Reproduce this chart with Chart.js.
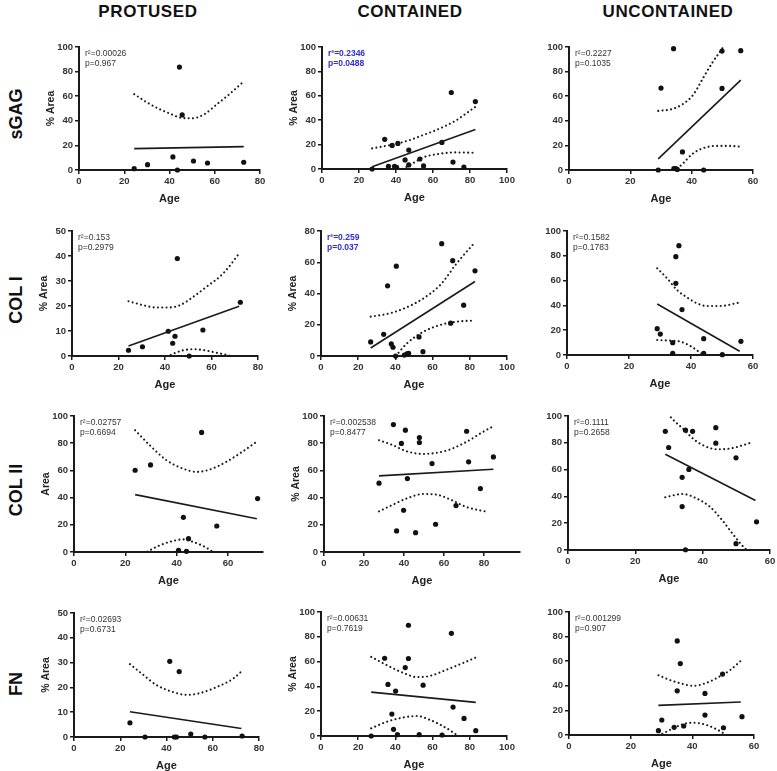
<!DOCTYPE html>
<html><head><meta charset="utf-8">
<script src="https://cdn.jsdelivr.net/npm/chart.js@4/dist/chart.umd.min.js"></script>
<style>
html,body{margin:0;padding:0;background:#fff;}
#wrap{position:relative;width:777px;height:771px;overflow:hidden;font-family:'Liberation Sans',Arial,sans-serif;background:#fff;}
.hdr{position:absolute;font-weight:bold;font-size:17px;color:#111;transform:translate(-50%,-50%);white-space:nowrap;letter-spacing:0.6px}
.row{position:absolute;font-weight:bold;font-size:18px;color:#111;transform:translate(-50%,-50%) rotate(-90deg);white-space:nowrap}
canvas{position:absolute}
</style></head><body><div id="wrap">
<div class="hdr" style="left:148px;top:12px">PROTUSED</div>
<div class="hdr" style="left:410px;top:12px">CONTAINED</div>
<div class="hdr" style="left:668px;top:12px">UNCONTAINED</div>
<div class="row" style="left:16px;top:114px">sGAG</div>
<div class="row" style="left:16px;top:300px">COL I</div>
<div class="row" style="left:16px;top:490px">COL II</div>
<div class="row" style="left:16px;top:684px">FN</div>
</div>
<script>
// ---------- DATA ----------
const columns = ['PROTUSED', 'CONTAINED', 'UNCONTAINED'];
const rows = ['sGAG', 'COL I', 'COL II', 'FN'];

// sGAG – PROTUSED
const sgagProtAge  = [24.4, 30.3, 41.5, 43.5, 44.4, 45.6, 50.6, 56.8, 72.8];
const sgagProtArea = [1.1, 4.3, 10.6, 0, 83.7, 44.8, 7.3, 5.7, 6.3];
const sgagProtFitX = [24.4, 72.8], sgagProtFitY = [17.4, 19.0];
const sgagProtUpX  = [24.4, 30, 35, 40, 45, 50, 55, 62, 67, 72.8];
const sgagProtUpY  = [61.7, 55, 50, 46, 42.5, 42, 45, 55, 62.5, 72];
const sgagProtLoX  = [], sgagProtLoY = [];
const sgagProtStats = ['r²=0.00026', 'p=0.967'];

// sGAG – CONTAINED
const sgagContAge  = [27.1, 33.9, 35.9, 37.9, 39.2, 40.3, 41.0, 44.9, 46.9, 46.9, 52.9, 54.9, 64.8, 69.9, 70.8, 76.7, 82.9];
const sgagContArea = [0, 24.3, 2.2, 19.3, 2.2, 1.4, 21.0, 7.4, 15.5, 3.3, 8.2, 2.5, 21.8, 62.7, 5.7, 1.6, 55.3];
const sgagContFitX = [27.1, 82.9], sgagContFitY = [1.9, 32.4];
const sgagContUpX  = [27.1, 36.6, 45.7, 54.7, 63.7, 72.7, 82.9];
const sgagContUpY  = [16.9, 19.6, 22.9, 27.8, 33.2, 40.1, 51.0];
const sgagContLoX  = [27.1, 36.6, 44.8, 51.1, 54.7, 63.7, 72.7, 82.9];
const sgagContLoY  = [-13, -5, 1, 6.5, 9.5, 12.5, 13.6, 13.3];
const sgagContStats = ['r²=0.2346', 'p=0.0488'];

// sGAG – UNCONTAINED
const sgagUncAge  = [29.1, 30.0, 34.1, 34.2, 34.8, 35.3, 37.0, 43.9, 49.9, 49.9, 56.0];
const sgagUncArea = [0, 66.6, 98.6, 1.2, 1.2, 0.5, 14.7, 0, 96.7, 66.3, 97.0];
const sgagUncFitX = [29.1, 56.0], sgagUncFitY = [9.0, 73.1];
const sgagUncUpX  = [29.1, 33.9, 37.2, 40.5, 43.7, 47.0, 49.7, 53, 56];
const sgagUncUpY  = [48.1, 49.7, 53.8, 61.1, 74.7, 88.3, 97.8, 112, 127];
const sgagUncLoX  = [29.1, 32, 35, 37.2, 40.5, 43.7, 48.0, 52.4, 55.6];
const sgagUncLoY  = [-30, -12, 0, 5.4, 13.6, 17.7, 19.6, 19.6, 19.0];
const sgagUncStats = ['r²=0.2227', 'p=0.1035'];

// COL I – PROTUSED
const col1ProtAge  = [24.3, 30.3, 41.4, 43.3, 44.3, 45.3, 50.4, 56.3, 72.4];
const col1ProtArea = [2.3, 3.7, 9.9, 5.1, 7.9, 39.0, 0, 10.4, 21.5];
const col1ProtFitX = [24.3, 71.9], col1ProtFitY = [4.0, 19.9];
const col1ProtUpX  = [24.3, 30.7, 36.4, 41.4, 46.4, 52.1, 57.9, 65, 71.9];
const col1ProtUpY  = [21.9, 20.3, 19.4, 19.4, 20.3, 23.7, 27.7, 33.0, 41.0];
const col1ProtLoX  = [36, 40, 43.6, 47.9, 52.1, 56.4, 62.1, 67.1, 71.9];
const col1ProtLoY  = [-3, -0.8, 0.9, 2.3, 2.7, 2.4, 1.3, 0.3, -1.2];
const col1ProtStats = ['r²=0.153', 'p=0.2979'];

// COL I – CONTAINED
const col1ContAge  = [26.7, 33.7, 35.8, 37.8, 38.7, 40.5, 40.1, 44.8, 46.2, 47.1, 52.7, 54.8, 64.9, 69.7, 70.8, 76.7, 82.8];
const col1ContArea = [9.0, 13.9, 44.9, 7.7, 5.6, 57.5, 0, 0.6, 1.3, 1.7, 12.2, 2.8, 71.9, 21.0, 61.0, 32.5, 54.5];
const col1ContFitX = [26.7, 82.8], col1ContFitY = [5.1, 47.7];
const col1ContUpX  = [26.7, 37.3, 46.2, 55.2, 64.2, 73.1, 82.1];
const col1ContUpY  = [25.2, 27.4, 31.2, 37.0, 45.6, 59.5, 71.9];
const col1ContLoX  = [26.7, 33, 40.1, 46.2, 55.2, 64.2, 73.1, 82.1];
const col1ContLoY  = [-15, -7, 0, 8.1, 15.6, 19.9, 22.0, 22.7];
const col1ContStats = ['r²=0.259', 'p=0.037'];

// COL I – UNCONTAINED
const col1UncAge  = [29.1, 30.1, 34.1, 34.1, 35.1, 35.1, 36.1, 37.1, 44.1, 44.1, 50.1, 56.1];
const col1UncArea = [21.2, 16.9, 9.9, 1.3, 57.8, 79.3, 88.2, 36.6, 13.2, 1.3, 0.3, 11.0];
const col1UncFitX = [29.1, 55.7], col1UncFitY = [41.1, 3.0];
const col1UncUpX  = [29.1, 32.3, 35.5, 38.7, 41.9, 45.2, 49.5, 55.4];
const col1UncUpY  = [69.9, 61.8, 52.4, 46.5, 41.7, 39.5, 39.5, 42.2];
const col1UncLoX  = [29.1, 33.3, 36.5, 39.8, 42.5, 44.1, 47, 50];
const col1UncLoY  = [12.1, 11.6, 10.8, 7.3, 2.7, 0, -5, -12];
const col1UncStats = ['r²=0.1582', 'p=0.1783'];

// COL II – PROTUSED
const col2ProtAge  = [23.8, 29.8, 40.7, 42.6, 43.8, 44.6, 49.7, 55.6, 71.5];
const col2ProtArea = [60.1, 64.0, 1.2, 25.5, 0.5, 9.8, 87.9, 19.1, 39.3];
const col2ProtFitX = [23.8, 71.2], col2ProtFitY = [42.2, 24.5];
const col2ProtUpX  = [23.8, 29.5, 36.0, 42.5, 47.7, 52.8, 59.3, 64.5, 71.0];
const col2ProtUpY  = [89.6, 78.5, 67.5, 61.3, 58.9, 60.6, 66.3, 72.4, 81.0];
const col2ProtLoX  = [24, 28.2, 33.4, 38.6, 42.5, 46.4, 50.3, 52.8, 54.1, 58];
const col2ProtLoY  = [-4, 0, 4.9, 8.1, 9.3, 7.4, 4.4, 1.7, 0, -5];
const col2ProtStats = ['r²=0.02757', 'p=0.6694'];

// COL II – CONTAINED
const col2ContAge  = [27.5, 34.7, 36.3, 38.7, 39.8, 40.7, 41.7, 45.8, 47.7, 47.7, 54.0, 55.8, 66.0, 71.3, 72.3, 78.2, 84.7];
const col2ContArea = [50.6, 93.7, 15.5, 79.8, 30.7, 89.6, 54.0, 14.2, 84.2, 80.5, 65.0, 20.4, 34.1, 88.8, 66.3, 46.6, 69.9];
const col2ContFitX = [27.5, 84.7], col2ContFitY = [56.0, 60.9];
const col2ContUpX  = [27.5, 34.5, 41.2, 49.5, 56.2, 62.8, 71.2, 79.5, 84.7];
const col2ContUpY  = [82.2, 78.5, 74.1, 72.1, 72.9, 75.3, 81.0, 88.3, 92.5];
const col2ContLoX  = [27.5, 34.5, 41.2, 49.5, 56.2, 62.8, 71.2, 82];
const col2ContLoY  = [29.9, 34.8, 39.3, 42.6, 42.2, 38.8, 33.1, 29.4];
const col2ContStats = ['r²=0.002538', 'p=0.8477'];

// COL II – UNCONTAINED
const col2UncAge  = [28.9, 29.9, 33.9, 33.9, 34.9, 34.9, 35.9, 37.0, 43.9, 43.9, 49.9, 49.9, 56.0];
const col2UncArea = [88.6, 76.5, 54.2, 32.4, 89.4, 0.2, 60.1, 88.6, 91.3, 79.7, 68.8, 4.7, 21.0];
const col2UncFitX = [28.9, 55.7], col2UncFitY = [71.5, 36.9];
const col2UncUpX  = [28.9, 31.1, 34.1, 37.1, 40.1, 44.1, 48.1, 52.0, 55.0];
const col2UncUpY  = [104, 97.5, 90.6, 83.2, 78.2, 75.2, 75.7, 78.2, 80.7];
const col2UncLoX  = [28.9, 34.1, 38.1, 42.1, 46.1, 49.1, 51.5, 53.0, 55.7];
const col2UncLoY  = [39.4, 41.8, 38.6, 32.4, 21.3, 11.4, 4.0, 0.2, -7];
const col2UncStats = ['r²=0.1111', 'p=0.2658'];

// FN – PROTUSED
const fnProtAge  = [24.2, 30.7, 41.4, 43.4, 44.3, 45.5, 50.5, 56.6, 72.7];
const fnProtArea = [5.7, 0, 30.5, 0, 0, 26.4, 1.2, 0, 0.4];
const fnProtFitX = [24.2, 72.4], fnProtFitY = [10.2, 3.4];
const fnProtUpX  = [24.2, 29.9, 35.6, 42.9, 48.6, 54.4, 61.6, 68.8, 72.4];
const fnProtUpY  = [29.4, 25.1, 21.0, 18.1, 17.0, 17.7, 20.1, 23.5, 26.4];
const fnProtLoX  = [], fnProtLoY = [];
const fnProtStats = ['r²=0.02693', 'p=0.6731'];

// FN – CONTAINED
const fnContAge  = [27.0, 34.2, 36.0, 38.1, 39.0, 40.1, 41.1, 45.3, 47.0, 47.0, 52.8, 54.9, 65.1, 70.1, 71.0, 76.9, 83.2];
const fnContArea = [0, 62.7, 41.6, 17.7, 5.4, 36.2, 1.1, 55.2, 89.3, 62.5, 1.1, 41.0, 0.8, 82.8, 23.3, 14.2, 4.3];
const fnContFitX = [27.0, 83.2], fnContFitY = [35.4, 27.1];
const fnContUpX  = [27, 35.4, 44.4, 51.5, 58.7, 67.6, 76.6, 83.2];
const fnContUpY  = [63.8, 57.1, 50.8, 47.5, 48.5, 53.5, 59, 63.3];
const fnContLoX  = [27.0, 35.4, 44.4, 51.5, 58.7, 67.6, 73.9, 80];
const fnContLoY  = [6.2, 11.5, 15.0, 16.1, 12.9, 6.2, 0, -6];
const fnContStats = ['r²=0.00631', 'p=0.7619'];

// FN – UNCONTAINED
const fnUncAge  = [29.0, 30.1, 34.1, 35.1, 35.1, 36.1, 37.2, 44.1, 44.1, 49.8, 50.1, 56.1];
const fnUncArea = [3.5, 12.2, 6.2, 35.9, 76.5, 58.1, 7.3, 33.8, 16.2, 49.5, 5.9, 14.9];
const fnUncFitX = [29.0, 55.7], fnUncFitY = [24.1, 26.8];
const fnUncUpX  = [29.0, 32.8, 37.1, 40.3, 44.6, 49.0, 52.2, 55.7];
const fnUncUpY  = [48.6, 44.6, 41.4, 40.0, 42.4, 47.8, 52.7, 60.3];
const fnUncLoX  = [29.0, 30.6, 33.8, 37.1, 40.3, 44.6, 47.9, 50.1, 53];
const fnUncLoY  = [-0.5, 1.4, 5.4, 8.9, 10.0, 8.1, 4.6, 1.4, -4];
const fnUncStats = ['r²=0.001299', 'p=0.907'];

// ---------- LAYOUT (pixel placement of each panel) ----------
const Y_W = 50, X_H = 40, PAD_T = 12, PAD_R = 14;
const BLUE = '#2d2dd0';

const panels = [
  {age:sgagProtAge, area:sgagProtArea, fx:sgagProtFitX, fy:sgagProtFitY, ux:sgagProtUpX, uy:sgagProtUpY, lx:sgagProtLoX, ly:sgagProtLoY, stats:sgagProtStats,
   ax:79, right:260, top:47, y0:170, ymax:100, ystep:20, xmax:80, ytitle:'% Area'},
  {age:sgagContAge, area:sgagContArea, fx:sgagContFitX, fy:sgagContFitY, ux:sgagContUpX, uy:sgagContUpY, lx:sgagContLoX, ly:sgagContLoY, stats:sgagContStats,
   ax:322, right:507, top:47, y0:169, ymax:100, ystep:20, xmax:100, ytitle:'% Area', blue:true},
  {age:sgagUncAge, area:sgagUncArea, fx:sgagUncFitX, fy:sgagUncFitY, ux:sgagUncUpX, uy:sgagUncUpY, lx:sgagUncLoX, ly:sgagUncLoY, stats:sgagUncStats,
   ax:569, right:753, top:47, y0:170, ymax:100, ystep:20, xmax:60, ytitle:''},
  {age:col1ProtAge, area:col1ProtArea, fx:col1ProtFitX, fy:col1ProtFitY, ux:col1ProtUpX, uy:col1ProtUpY, lx:col1ProtLoX, ly:col1ProtLoY, stats:col1ProtStats,
   ax:72, right:258, top:231, y0:356, ymax:50, ystep:10, xmax:80, ytitle:'% Area'},
  {age:col1ContAge, area:col1ContArea, fx:col1ContFitX, fy:col1ContFitY, ux:col1ContUpX, uy:col1ContUpY, lx:col1ContLoX, ly:col1ContLoY, stats:col1ContStats,
   ax:321, right:507, top:231, y0:356, ymax:80, ystep:20, xmax:100, ytitle:'% Area', blue:true},
  {age:col1UncAge, area:col1UncArea, fx:col1UncFitX, fy:col1UncFitY, ux:col1UncUpX, uy:col1UncUpY, lx:col1UncLoX, ly:col1UncLoY, stats:col1UncStats,
   ax:567, right:753, top:231, y0:355, ymax:100, ystep:20, xmax:60, ytitle:''},
  {age:col2ProtAge, area:col2ProtArea, fx:col2ProtFitX, fy:col2ProtFitY, ux:col2ProtUpX, uy:col2ProtUpY, lx:col2ProtLoX, ly:col2ProtLoY, stats:col2ProtStats,
   ax:74, right:263, top:416, y0:552, ymax:100, ystep:20, xmax:73.6, ytitle:'Area'},
  {age:col2ContAge, area:col2ContArea, fx:col2ContFitX, fy:col2ContFitY, ux:col2ContUpX, uy:col2ContUpY, lx:col2ContLoX, ly:col2ContLoY, stats:col2ContStats,
   ax:324, right:520, top:416, y0:552, ymax:100, ystep:20, xmax:98, ytitle:'% Area'},
  {age:col2UncAge, area:col2UncArea, fx:col2UncFitX, fy:col2UncFitY, ux:col2UncUpX, uy:col2UncUpY, lx:col2UncLoX, ly:col2UncLoY, stats:col2UncStats,
   ax:568, right:770, top:416, y0:550, ymax:100, ystep:20, xmax:60, ytitle:''},
  {age:fnProtAge, area:fnProtArea, fx:fnProtFitX, fy:fnProtFitY, ux:fnProtUpX, uy:fnProtUpY, lx:fnProtLoX, ly:fnProtLoY, stats:fnProtStats,
   ax:74, right:259, top:613, y0:737, ymax:50, ystep:10, xmax:80, ytitle:'% Area'},
  {age:fnContAge, area:fnContArea, fx:fnContFitX, fy:fnContFitY, ux:fnContUpX, uy:fnContUpY, lx:fnContLoX, ly:fnContLoY, stats:fnContStats,
   ax:321, right:507, top:612, y0:736, ymax:100, ystep:20, xmax:100, ytitle:'% Area'},
  {age:fnUncAge, area:fnUncArea, fx:fnUncFitX, fy:fnUncFitY, ux:fnUncUpX, uy:fnUncUpY, lx:fnUncLoX, ly:fnUncLoY, stats:fnUncStats,
   ax:569, right:754, top:612, y0:735, ymax:100, ystep:20, xmax:60, ytitle:''}
];

const zip = (xs, ys) => xs.map((x, i) => ({x: x, y: ys[i]}));
const FONT = "'Liberation Sans', Arial, sans-serif";
const INK = '#1a1a1a';

const statsPlugin = {
  id: 'stats',
  afterDraw(chart) {
    const o = chart.options.plugins.stats;
    if (!o) return;
    const ctx = chart.ctx, a = chart.chartArea;
    ctx.save();
    ctx.fillStyle = o.blue ? BLUE : '#333';
    ctx.font = (o.blue ? 'bold ' : '') + '8.5px ' + FONT;
    ctx.textBaseline = 'middle';
    ctx.textAlign = 'left';
    ctx.fillText(o.lines[0], a.left + 6, a.top + 7);
    ctx.fillText(o.lines[1], a.left + 6, a.top + 17);
    ctx.restore();
  }
};

const wrap = document.getElementById('wrap');
panels.forEach(p => {
  const cv = document.createElement('canvas');
  const w = Y_W + (p.right - p.ax) + PAD_R;
  const h = PAD_T + (p.y0 - p.top) + X_H;
  cv.width = w; cv.height = h;
  cv.style.left = (p.ax - Y_W) + 'px';
  cv.style.top = (p.top - PAD_T) + 'px';
  cv.style.width = w + 'px'; cv.style.height = h + 'px';
  wrap.appendChild(cv);

  const dotted = {showLine: true, pointRadius: 0, borderColor: INK, borderWidth: 2.1,
                  borderDash: [0.01, 4.3], borderCapStyle: 'round', cubicInterpolationMode: 'monotone', fill: false};
  const datasets = [];
  if (p.ux.length) datasets.push(Object.assign({data: zip(p.ux, p.uy)}, dotted));
  if (p.lx.length) datasets.push(Object.assign({data: zip(p.lx, p.ly)}, dotted));
  datasets.push({data: zip(p.fx, p.fy), showLine: true, pointRadius: 0, borderColor: INK, borderWidth: 1.6, fill: false});
  datasets.push({data: zip(p.age, p.area), showLine: false, pointRadius: 2.6, pointBackgroundColor: '#111',
                 pointBorderColor: '#111', pointBorderWidth: 0, clip: false});

  const tickFont = {family: FONT, size: 9.5, weight: 'bold'};
  new Chart(cv, {
    type: 'scatter',
    data: {datasets: datasets},
    plugins: [statsPlugin],
    options: {
      responsive: false, animation: false, events: [],
      layout: {padding: {top: PAD_T, right: PAD_R, left: 0, bottom: 0}},
      plugins: {legend: {display: false}, tooltip: {enabled: false}, stats: {lines: p.stats, blue: !!p.blue}},
      scales: {
        x: {
          type: 'linear', position: 'bottom', min: 0, max: p.xmax,
          ticks: {stepSize: 20, color: '#333', font: tickFont, padding: 2, maxRotation: 0},
          afterBuildTicks: s => { s.ticks = s.ticks.filter(t => Math.abs(t.value % 20) < 1e-6); },
          afterFit: s => { s.height = X_H; },
          grid: {drawOnChartArea: false, drawTicks: true, tickLength: 4, color: INK, lineWidth: 1.5},
          border: {display: true, color: INK, width: 2},
          title: {display: true, text: 'Age', color: '#222', font: {family: FONT, size: 11, weight: 'bold'}, padding: {top: 0, bottom: 4}}
        },
        y: {
          type: 'linear', position: 'left', min: 0, max: p.ymax,
          ticks: {stepSize: p.ystep, color: '#333', font: tickFont, padding: 2},
          afterFit: s => { s.width = Y_W; },
          grid: {drawOnChartArea: false, drawTicks: true, tickLength: 4, color: INK, lineWidth: 1.5},
          border: {display: true, color: INK, width: 2},
          title: {display: !!p.ytitle, text: p.ytitle, color: '#222', font: {family: FONT, size: 10.5, weight: 'bold'}, padding: {top: 16, bottom: 0}}
        }
      }
    }
  });
});
</script>
</body></html>
